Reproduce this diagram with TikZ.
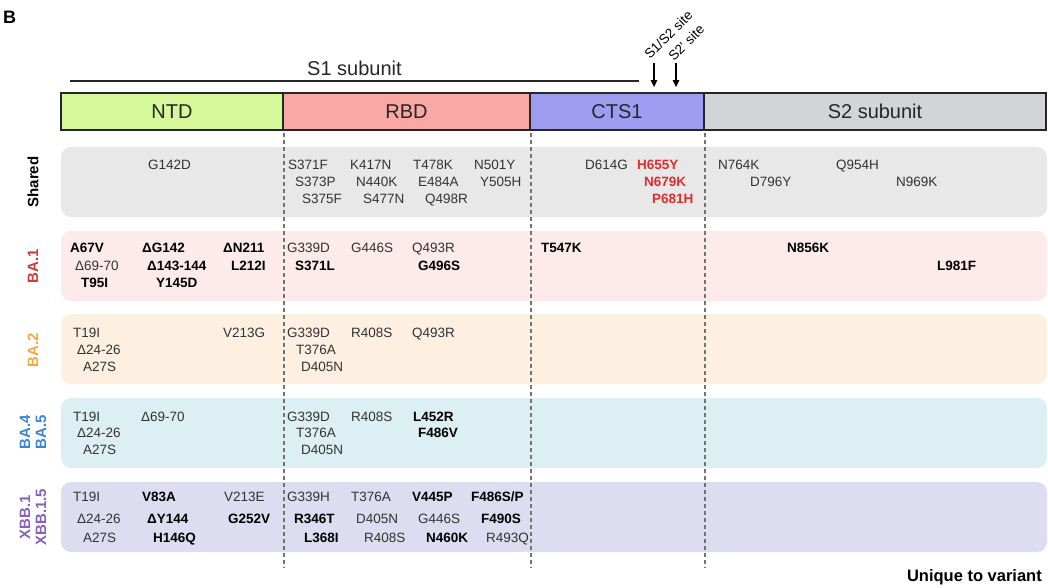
\documentclass[tikz,border=0pt]{standalone}
\usepackage{fontspec}
\setmainfont{Liberation Sans}
\usetikzlibrary{arrows.meta}

\definecolor{ntdgreen}{RGB}{213,248,155}
\definecolor{rbdred}{RGB}{250,168,165}
\definecolor{ctsblue}{RGB}{157,156,240}
\definecolor{stwogray}{RGB}{210,212,215}
\definecolor{sharedbg}{RGB}{232,232,232}
\definecolor{baonebg}{RGB}{253,235,235}
\definecolor{batwobg}{RGB}{253,240,224}
\definecolor{bafourbg}{RGB}{220,240,244}
\definecolor{xbbbg}{RGB}{222,220,240}
\definecolor{baone}{RGB}{214,55,55}
\definecolor{batwo}{RGB}{245,168,66}
\definecolor{bafour}{RGB}{58,134,214}
\definecolor{xbb}{RGB}{140,95,185}
\definecolor{cleave}{RGB}{221,45,45}

\begin{document}
\begin{tikzpicture}[x=1pt, y=-1pt,
  mut/.style={anchor=west, inner sep=0pt, text height=9.5pt, text depth=0pt,
    font=\fontsize{13.5}{15}\selectfont, text=black!80},
  mutb/.style={mut, font=\fontsize{13.5}{15}\selectfont\bfseries, text=black},
  domainbox/.style={draw=black!85, line width=1.8pt, minimum height=37pt,
    inner sep=0pt, font=\fontsize{20}{22}\selectfont, text=black!85},
  variant/.style={rotate=90, align=center, inner sep=0pt,
    font=\fontsize{15}{16}\selectfont\bfseries},
  sitelab/.style={rotate=45, anchor=south west, inner sep=0pt, text depth=0pt,
    font=\fontsize{13.5}{15}\selectfont},
  rowbg/.style={rounded corners=10pt},
  divider/.style={draw=black!55, line width=1.3pt, dash pattern=on 4pt off 3pt}]
  \useasboundingbox (0,0) rectangle (1048,588);

  % panel letter
  \node[font=\fontsize{18}{20}\selectfont\bfseries] (panel) at (9.5,17.5) {B};

  % row backgrounds
  \fill[rowbg, sharedbg] (61,147) rectangle (1047,217);
  \fill[rowbg, baonebg] (61,231) rectangle (1047,301);
  \fill[rowbg, batwobg] (61,314) rectangle (1047,384);
  \fill[rowbg, bafourbg] (61,398) rectangle (1047,468);
  \fill[rowbg, xbbbg] (61,482) rectangle (1047,552);

  % spike domains
  \node[domainbox, fill=ntdgreen, minimum width=222pt] (ntd) at (172,111.5) {NTD};
  \node[domainbox, fill=rbdred, minimum width=247pt] (rbd) at (406.5,111.5) {RBD};
  \node[domainbox, fill=ctsblue, minimum width=174pt] (cts) at (617,111.5) {CTS1};
  \node[domainbox, fill=stwogray, minimum width=342pt] (stwo) at (875,111.5) {S2 subunit};

  % S1 subunit bar
  \coordinate (sonel) at (70,81);
  \coordinate (soner) at (639,81);
  \draw[line width=1.5pt, black!85] (sonel) -- (soner)
    node[midway, above=5pt, inner sep=0pt, font=\fontsize{20}{22}\selectfont, text=black!85] (sonelab) {S1 subunit};

  % cleavage sites
  \coordinate (cutone) at (654,63);
  \coordinate (cuttwo) at (676,63);
  \draw[-{Triangle[length=7pt,width=6.5pt]}, line width=1.2pt] (cutone) -- (cutone |- cts.north) [shorten >=5pt];
  \draw[-{Triangle[length=7pt,width=6.5pt]}, line width=1.2pt] (cuttwo) -- (cuttwo |- cts.north) [shorten >=5pt];
  \node[sitelab] (cutonelab) at (650,60) {S1/S2 site};
  \node[sitelab] (cuttwolab) at (674,62) {S2' site};

  % domain dividers
  \coordinate (bot) at (0,567);
  \draw[divider] ([yshift=-2pt]ntd.south east) -- (ntd.south east |- bot);
  \draw[divider] ([yshift=-2pt]rbd.south east) -- (rbd.south east |- bot);
  \draw[divider] ([yshift=-2pt]cts.south east) -- (cts.south east |- bot);

  % variant labels
  \node[variant] (lshared) at (33,182) {Shared};
  \node[variant, text=baone] (lbaone) at (33,266) {BA.1};
  \node[variant, text=batwo] (lbatwo) at (33,350) {BA.2};
  \node[variant, text=bafour] (lbafour) at (33,432) {BA.4\\BA.5};
  \node[variant, text=xbb] (lxbb) at (33,517) {XBB.1\\XBB.1.5};

  % mutations, plain
  \foreach \x/\y/\t [count=\i] in {
      148/165/G142D, 288/165/S371F, 350/165/K417N, 413/165/T478K, 474/165/N501Y,
      295/182/S373P, 356/182/N440K, 418/182/E484A, 480/182/Y505H,
      302/199/S375F, 363/199/S477N, 425/199/Q498R,
      585/165/D614G, 718/165/N764K, 836/165/Q954H, 750/182/D796Y, 896/182/N969K,
      75/266/Δ69-70, 287/248/G339D, 351/248/G446S, 412/248/Q493R,
      73/333/T19I, 223/333/V213G, 77/350/Δ24-26, 83/367/A27S,
      287/333/G339D, 351/333/R408S, 412/333/Q493R, 296/350/T376A, 301/367/D405N,
      73/417/T19I, 141/417/Δ69-70, 77/433/Δ24-26, 83/450/A27S,
      287/417/G339D, 351/417/R408S, 296/433/T376A, 301/450/D405N,
      73/497/T19I, 224/497/V213E, 77/519/Δ24-26, 83/538/A27S,
      287/497/G339H, 351/497/T376A, 356/519/D405N, 418/519/G446S,
      364/538/R408S, 486/538/R493Q}
    \node[mut] (n\i) at (\x,\y) {\t};

  % mutations unique to variant
  \foreach \x/\y/\t [count=\i] in {
      70/248/A67V, 142/248/ΔG142, 223/248/ΔN211, 147/266/Δ143-144, 231/266/L212I,
      81/283/T95I, 156/283/Y145D, 295/266/S371L, 418/266/G496S,
      541/248/T547K, 787/248/N856K, 937/266/L981F,
      413/417/L452R, 418/433/F486V,
      142/497/V83A, 147/519/ΔY144, 228/519/G252V, 153/538/H146Q,
      412/497/V445P, 294/519/R346T, 481/519/F490S, 304/538/L368I, 426/538/N460K}
    \node[mutb] (b\i) at (\x,\y) {\t};
  \node[mutb] (fsp) at (471,497) {F486S/P};

  % furin site mutations
  \foreach \x/\y/\t [count=\i] in {637/165/H655Y, 644/182/N679K, 652/199/P681H}
    \node[mutb, text=cleave] (r\i) at (\x,\y) {\t};

  \node[anchor=east, inner sep=0pt, font=\fontsize{16.5}{18}\selectfont\bfseries] (uniq) at (1042,577) {Unique to variant};
\end{tikzpicture}
\end{document}
